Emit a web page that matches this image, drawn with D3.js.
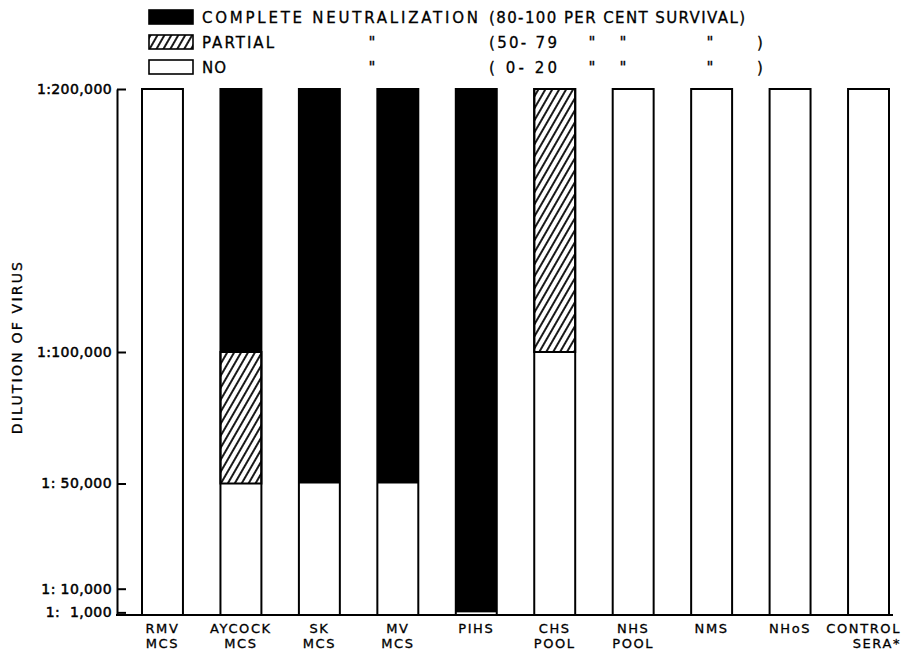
<!DOCTYPE html>
<html lang="en">
<head>
  <meta charset="UTF-8">
  <title>Dilution of virus - neutralization by sera</title>
  <script src="https://d3js.org/d3.v7.min.js"></script>
  <style>
    body { margin: 0; background: #fff; }
    svg text { font-family: "DejaVu Sans", sans-serif; fill: #000; stroke: #000; stroke-width: 0.3px; }
  </style>
</head>
<body>
  <div id="chart"></div>
  <script>
    // Sera (two-line labels under the bars)
    const labelTop = ["RMV", "AYCOCK", "SK", "MV", "PIHS", "CHS", "NHS", "NMS", "NHoS", "CONTROL"];
    const labelBottom = ["MCS", "MCS", "MCS", "MCS", "", "POOL", "POOL", "", "", "SERA*"];

    // Dilution spans (stacked from 0) for each level of neutralization
    const noNeut   = [200000, 50000, 50000, 50000, 1000, 100000, 200000, 200000, 200000, 200000];
    const partial  = [0, 50000, 0, 0, 0, 100000, 0, 0, 0, 0];
    const complete = [0, 100000, 150000, 150000, 199000, 0, 0, 0, 0, 0];

    // y axis ticks
    const tickValues = [1000, 10000, 50000, 100000, 200000];
    const tickLabels = ["1:  1,000", "1: 10,000", "1: 50,000", "1:100,000", "1:200,000"];

    // legend
    const legendNames = ["COMPLETE NEUTRALIZATION", "PARTIAL", "NO"];
    const legendRanges = ["(80-100 PER CENT SURVIVAL)", "(50- 79", "( 0- 20"];

    const width = 904, height = 656;

    const svg = d3.select("#chart").append("svg")
      .attr("width", width)
      .attr("height", height);

    // hatch pattern for partial neutralization
    const defs = svg.append("defs");
    defs.append("pattern")
      .attr("id", "hatch")
      .attr("patternUnits", "userSpaceOnUse")
      .attr("width", 6)
      .attr("height", 10)
      .attr("patternTransform", "rotate(30)")
      .append("line")
      .attr("x1", 1).attr("y1", 0)
      .attr("x2", 1).attr("y2", 10)
      .attr("stroke", "#000")
      .attr("stroke-width", 1.8);

    const fills = { no: "#fff", partial: "url(#hatch)", complete: "#000" };

    const data = labelTop.map((name, i) => ({
      name, no: noNeut[i], partial: partial[i], complete: complete[i]
    }));

    const x = d3.scaleBand()
      .domain(labelTop)
      .range([142, 889])
      .paddingInner(0.478)
      .paddingOuter(0);

    const y = d3.scaleLinear()
      .domain([0, 200000])
      .range([615, 89]);

    const stack = d3.stack().keys(["no", "partial", "complete"]);
    const series = stack(data);

    // bar segments (only the hatched ones get their own border)
    svg.append("g")
      .selectAll("g")
      .data(series)
      .join("g")
      .attr("fill", d => fills[d.key])
      .attr("stroke", d => d.key === "partial" ? "#000" : "none")
      .attr("stroke-width", 2)
      .selectAll("rect")
      .data(d => d.filter(s => s[1] > s[0]))
      .join("rect")
      .attr("x", d => x(d.data.name))
      .attr("y", d => y(d[1]))
      .attr("width", x.bandwidth())
      .attr("height", d => y(d[0]) - y(d[1]));

    // bar outlines
    svg.append("g")
      .selectAll("rect")
      .data(data)
      .join("rect")
      .attr("x", d => x(d.name))
      .attr("y", d => y(d.no + d.partial + d.complete))
      .attr("width", x.bandwidth())
      .attr("height", d => y(0) - y(d.no + d.partial + d.complete))
      .attr("fill", "none")
      .attr("stroke", "#000")
      .attr("stroke-width", 2);

    // y axis: ticks point into the plot
    const yAxis = svg.append("g")
      .attr("transform", "translate(117,0)")
      .call(d3.axisLeft(y)
        .tickValues(tickValues)
        .tickSizeInner(-9)
        .tickSizeOuter(0)
        .tickPadding(5)
        .tickFormat((d, i) => tickLabels[i]));
    yAxis.select(".domain").attr("stroke-width", 2);
    yAxis.selectAll(".tick line").attr("stroke-width", 2);
    yAxis.selectAll(".tick text")
      .style("white-space", "pre")
      .attr("font-size", 14)
      .attr("letter-spacing", 0.4)
      .attr("font-family", "DejaVu Sans")
      .style("stroke-width", "0.5px");

    // bottom base line
    svg.append("line")
      .attr("x1", 116).attr("x2", 893)
      .attr("y1", y(0)).attr("y2", y(0))
      .attr("stroke", "#000")
      .attr("stroke-width", 2);

    // category labels
    const isLast = i => i === labelTop.length - 1;
    const cat = svg.append("g")
      .attr("font-size", 13)
      .attr("letter-spacing", 1.6);
    cat.selectAll(".top")
      .data(labelTop)
      .join("text")
      .attr("class", "top")
      .attr("x", (d, i) => isLast(i) ? 901 : x(d) + x.bandwidth() / 2)
      .attr("y", 633)
      .attr("text-anchor", (d, i) => isLast(i) ? "end" : "middle")
      .text(d => d);
    cat.selectAll(".bot")
      .data(labelBottom)
      .join("text")
      .attr("class", "bot")
      .attr("x", (d, i) => isLast(i) ? 901 : x(labelTop[i]) + x.bandwidth() / 2)
      .attr("y", 648)
      .attr("text-anchor", (d, i) => isLast(i) ? "end" : "middle")
      .text(d => d);

    // y title
    svg.append("text")
      .attr("transform", "translate(22,347) rotate(-90)")
      .attr("text-anchor", "middle")
      .attr("font-size", 14)
      .attr("letter-spacing", 2.2)
      .text("DILUTION OF VIRUS");

    // legend
    const legendFills = [fills.complete, fills.partial, fills.no];
    const legend = svg.append("g").attr("font-size", 15);
    const rowY = [17, 42, 67];
    const nameWidths = [276, 72, 24];
    legendNames.forEach((name, i) => {
      const g = legend.append("g").attr("transform", `translate(0,${rowY[i]})`);
      g.append("rect")
        .attr("x", 149).attr("y", -7)
        .attr("width", 44).attr("height", 14)
        .attr("fill", legendFills[i])
        .attr("stroke", "#000")
        .attr("stroke-width", 1.6);
      g.append("text")
        .attr("x", 202).attr("y", 6)
        .attr("textLength", nameWidths[i])
        .attr("lengthAdjust", "spacing")
        .text(name);
      g.append("text")
        .attr("x", 489).attr("y", 6)
        .attr("textLength", i === 0 ? 256 : 68)
        .attr("lengthAdjust", "spacing")
        .style("white-space", "pre")
        .text(legendRanges[i]);
      if (i > 0) {
        [372, 592, 623, 710].forEach(dx => {
          g.append("text")
            .attr("x", dx).attr("y", 6)
            .attr("text-anchor", "middle")
            .text("\"");
        });
        g.append("text")
          .attr("x", 757).attr("y", 6)
          .text(")");
      }
    });
  </script>
</body>
</html>
